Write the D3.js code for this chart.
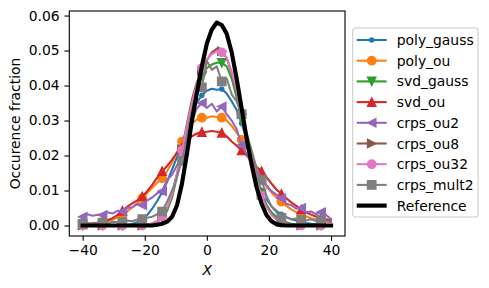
<html>
  <head>
    <meta charset="utf-8">
    <title>Occurence fraction</title>
    <script src="https://cdnjs.cloudflare.com/ajax/libs/d3/7.8.5/d3.min.js"></script>
    <style>
      body { margin: 0; background: #fff; }
      text { font-family: "DejaVu Sans", sans-serif; }
    </style>
  </head>
  <body>
    <div id="chart"></div>
<script>
  // x grid
  const xs = [-40, -38.4, -36.8, -35.2, -33.6, -32, -30.4, -28.8, -27.2, -25.6, -24, -22.4, -20.8, -19.2, -17.6, -16,
    -14.4, -12.8, -11.2, -9.6, -8, -6.4, -4.8, -3.2, -1.6, 0, 1.6, 3.2, 4.8, 6.4, 8, 9.6, 11.2, 12.8, 14.4, 16, 17.6,
    19.2, 20.8, 22.4, 24, 25.6, 27.2, 28.8, 30.4, 32, 33.6, 35.2, 36.8, 38.4, 40];

  const polyGauss = [0, 0, 0, 0, 0, 0, 0, 0, 0, 0.0002, 0.0004, 0.0009, 0.0016, 0.003, 0.0048, 0.007, 0.0095, 0.0125,
    0.016, 0.0196, 0.0232, 0.0275, 0.0325, 0.0352, 0.0372, 0.0385, 0.0391, 0.0388, 0.039, 0.0377, 0.0355, 0.033, 0.0292,
    0.0247, 0.0195, 0.0135, 0.01, 0.0075, 0.0055, 0.0042, 0.0032, 0.0024, 0.0018, 0.0014, 0.001, 0.0007, 0.0005, 0.0004,
    0.0003, 0.0002, 0.0001];
  const polyOu = [0.0003, 0.0004, 0.0005, 0.0007, 0.0009, 0.0012, 0.0017, 0.0023, 0.0031, 0.004, 0.0052, 0.0064, 0.0078,
    0.0093, 0.0108, 0.0122, 0.0135, 0.0155, 0.018, 0.021, 0.024, 0.0272, 0.0292, 0.0303, 0.0308, 0.0308, 0.0312, 0.031,
    0.0308, 0.03, 0.0285, 0.0265, 0.0245, 0.0222, 0.0195, 0.016, 0.0132, 0.0112, 0.0095, 0.008, 0.0068, 0.0056, 0.0046,
    0.0038, 0.0031, 0.0026, 0.0021, 0.0017, 0.0014, 0.0012, 0.001];
  const svdGauss = [0, 0, 0, 0, 0, 0, 0, 0, 0, 0, 0, 0, 0.0001, 0.0003, 0.0006, 0.0012, 0.0022, 0.0042, 0.008, 0.014,
    0.0205, 0.027, 0.0335, 0.039, 0.0425, 0.045, 0.046, 0.0465, 0.0465, 0.0455, 0.042, 0.0365, 0.0305, 0.0245, 0.0185,
    0.0135, 0.0092, 0.006, 0.0038, 0.0024, 0.0015, 0.0009, 0.0005, 0.0003, 0.0002, 0.0001, 0, 0, 0, 0, 0];
  const svdOu = [0.0003, 0.0004, 0.0006, 0.0008, 0.0011, 0.0015, 0.0021, 0.003, 0.0042, 0.0054, 0.0063, 0.0072, 0.0083,
    0.0098, 0.0116, 0.0137, 0.0155, 0.017, 0.0188, 0.0208, 0.0222, 0.024, 0.0255, 0.0263, 0.0267, 0.0268, 0.027, 0.0268,
    0.0265, 0.0255, 0.024, 0.0228, 0.0215, 0.02, 0.0185, 0.0168, 0.0155, 0.0138, 0.012, 0.0103, 0.009, 0.0078, 0.0066,
    0.0056, 0.0046, 0.0038, 0.0031, 0.0025, 0.0021, 0.0018, 0.0015];
  const crpsOu2 = [0.0025, 0.0032, 0.0028, 0.0031, 0.003, 0.0038, 0.0034, 0.0042, 0.004, 0.005, 0.0052, 0.0062, 0.0058,
    0.0072, 0.008, 0.0092, 0.0098, 0.013, 0.0145, 0.0172, 0.0205, 0.0255, 0.03, 0.0335, 0.035, 0.0336, 0.0348, 0.0326,
    0.034, 0.0318, 0.03, 0.0275, 0.023, 0.0205, 0.0178, 0.015, 0.0132, 0.0115, 0.0098, 0.0088, 0.0078, 0.0062, 0.0058,
    0.0048, 0.005, 0.0038, 0.004, 0.0032, 0.0038, 0.003, 0.0018];
  const crpsOu8 = [0, 0, 0, 0, 0, 0, 0, 0, 0, 0, 0, 0, 0, 0.0002, 0.0005, 0.0011, 0.0024, 0.0048, 0.0088, 0.0148, 0.0218,
    0.0292, 0.036, 0.041, 0.044, 0.0472, 0.0495, 0.0505, 0.0498, 0.0478, 0.0435, 0.038, 0.0318, 0.0252, 0.019, 0.0135,
    0.0088, 0.0055, 0.0032, 0.0018, 0.001, 0.0005, 0.0002, 0.0001, 0, 0, 0, 0, 0, 0, 0];
  const crpsOu32 = [0, 0, 0, 0, 0, 0, 0, 0, 0, 0, 0, 0, 0, 0.0003, 0.0006, 0.0012, 0.0025, 0.005, 0.009, 0.015, 0.0215,
    0.0285, 0.035, 0.0405, 0.045, 0.0475, 0.049, 0.0497, 0.0495, 0.048, 0.044, 0.0385, 0.032, 0.0255, 0.019, 0.0132,
    0.0085, 0.0052, 0.003, 0.0017, 0.0009, 0.0005, 0.0002, 0.0001, 0, 0, 0, 0, 0, 0, 0];
  const crpsMult2 = [0.0005, 0.0007, 0.0004, 0.0008, 0.0008, 0.0006, 0.0011, 0.0009, 0.001, 0.0014, 0.0012, 0.0017,
    0.0018, 0.0022, 0.0025, 0.0032, 0.004, 0.0068, 0.01, 0.014, 0.0185, 0.0255, 0.033, 0.0385, 0.0395, 0.047, 0.0445,
    0.0455, 0.0412, 0.042, 0.0375, 0.0355, 0.0318, 0.0265, 0.0215, 0.0165, 0.013, 0.0085, 0.0055, 0.0038, 0.0022, 0.0024,
    0.0018, 0.002, 0.0016, 0.0014, 0.0018, 0.0013, 0.0016, 0.0012, 0.001];
  const reference = [0, 0, 0, 0, 0, 0, 0, 0, 0, 0, 0, 0, 0, 0, 0, 0.0002, 0.0005, 0.0011, 0.0025, 0.0058, 0.012, 0.0205,
    0.03, 0.038, 0.0455, 0.052, 0.056, 0.058, 0.0573, 0.0548, 0.0495, 0.042, 0.0335, 0.025, 0.0175, 0.011, 0.0063, 0.003,
    0.0012, 0.0004, 0.0001, 0, 0, 0, 0, 0, 0, 0, 0, 0, 0];

  const seriesNames = ['poly_gauss', 'poly_ou', 'svd_gauss', 'svd_ou', 'crps_ou2', 'crps_ou8', 'crps_ou32', 'crps_mult2'];
  const seriesValues = [polyGauss, polyOu, svdGauss, svdOu, crpsOu2, crpsOu8, crpsOu32, crpsMult2];
  const seriesMarkers = ['.', 'o', 'v', '^', '<', '>', 'o', 's'];
  const seriesColors = ['#1f77b4', '#ff7f0e', '#2ca02c', '#d62728', '#9467bd', '#8c564b', '#e377c2', '#7f7f7f'];
  const xTicks = [-40, -20, 0, 20, 40];
  const yTicks = [0, 0.01, 0.02, 0.03, 0.04, 0.05, 0.06];

  const W = 489, H = 288;
  const L = 69.3, R = 345, T = 11, B = 236;
  const fs = 13.9, lw = 2.08, ms = 8.33;

  const x = d3.scaleLinear().domain([-44.3, 44.5]).range([L, R]);
  const y = d3.scaleLinear().domain([-0.003, 0.0613]).range([B, T]);

  const svg = d3.select('#chart').append('svg').attr('width', W).attr('height', H);

  svg.append('clipPath').attr('id', 'clip')
    .append('rect').attr('x', L).attr('y', T).attr('width', R - L).attr('height', B - T);

  function markerPath(m) {
    const h = ms / 2;
    if (m === 'o') return d3.symbol(d3.symbolCircle, Math.PI * h * h)();
    if (m === '.') return d3.symbol(d3.symbolCircle, Math.PI * h * h / 4)();
    if (m === 's') return `M${-h},${-h}H${h}V${h}H${-h}Z`;
    if (m === '^') return `M0,${-h}L${h},${h}L${-h},${h}Z`;
    if (m === 'v') return `M0,${h}L${h},${-h}L${-h},${-h}Z`;
    if (m === '<') return `M${-h},0L${h},${-h}L${h},${h}Z`;
    if (m === '>') return `M${h},0L${-h},${-h}L${-h},${h}Z`;
  }

  const line = d3.line().x(d => x(d[0])).y(d => y(d[1]));
  const plot = svg.append('g').attr('clip-path', 'url(#clip)');

  seriesValues.forEach((vals, k) => {
    const pts = xs.map((xv, i) => [xv, vals[i]]);
    plot.append('path')
      .datum(pts)
      .attr('d', line)
      .attr('fill', 'none')
      .attr('stroke', seriesColors[k])
      .attr('stroke-width', lw)
      .attr('stroke-linejoin', 'round')
      .attr('stroke-linecap', 'square');

    // markevery 4
    plot.selectAll(null)
      .data(pts.filter((d, i) => i % 4 === 0))
      .join('path')
      .attr('d', markerPath(seriesMarkers[k]))
      .attr('transform', d => `translate(${x(d[0])},${y(d[1])})`)
      .attr('fill', seriesColors[k])
      .attr('stroke', seriesColors[k])
      .attr('stroke-width', 1.39);
  });

  plot.append('path')
    .datum(xs.map((xv, i) => [xv, reference[i]]))
    .attr('d', line)
    .attr('fill', 'none')
    .attr('stroke', '#000')
    .attr('stroke-width', 4.17)
    .attr('stroke-linejoin', 'round')
    .attr('stroke-linecap', 'square');

  // axes
  const xAxis = svg.append('g')
    .attr('transform', `translate(0,${B})`)
    .call(d3.axisBottom(x).tickValues(xTicks).tickSize(4.86).tickPadding(4.4).tickFormat(d3.format('d')));
  const yAxis = svg.append('g')
    .attr('transform', `translate(${L},0)`)
    .call(d3.axisLeft(y).tickValues(yTicks).tickSize(4.86).tickPadding(4.86).tickFormat(d3.format('.2f')));

  [xAxis, yAxis].forEach(a => {
    a.select('.domain').remove();
    a.selectAll('line').attr('stroke', '#000').attr('stroke-width', 1.11);
    a.selectAll('text').attr('font-size', fs).attr('fill', '#000').style('font-family', '"DejaVu Sans", sans-serif');
  });

  svg.append('rect')
    .attr('x', L).attr('y', T).attr('width', R - L).attr('height', B - T)
    .attr('fill', 'none').attr('stroke', '#000').attr('stroke-width', 1.11);

  svg.append('text')
    .attr('x', (L + R) / 2).attr('y', 275)
    .attr('text-anchor', 'middle')
    .attr('font-size', fs)
    .attr('font-style', 'italic')
    .text('X');

  svg.append('text')
    .attr('transform', `translate(20,${(T + B) / 2}) rotate(-90)`)
    .attr('text-anchor', 'middle')
    .attr('font-size', fs)
    .text('Occurence fraction');

  // legend
  const legend = svg.append('g').attr('transform', 'translate(352.7,28)');
  legend.append('rect')
    .attr('width', 125.3).attr('height', 189)
    .attr('rx', 2.8)
    .attr('fill', '#fff').attr('fill-opacity', 0.8)
    .attr('stroke', '#cccccc').attr('stroke-width', 1.1);

  const legendNames = seriesNames.concat(['Reference']);
  legendNames.forEach((name, i) => {
    const gy = 12 + i * 20.7;
    const g = legend.append('g').attr('transform', `translate(0,${gy})`);
    const isRef = i === seriesNames.length;
    g.append('line')
      .attr('x1', 4).attr('x2', 34)
      .attr('stroke', isRef ? '#000' : seriesColors[i])
      .attr('stroke-width', isRef ? 4.17 : lw);
    if (!isRef) {
      g.append('path')
        .attr('d', markerPath(seriesMarkers[i]))
        .attr('transform', 'translate(19,0)')
        .attr('fill', seriesColors[i])
        .attr('stroke', seriesColors[i])
        .attr('stroke-width', 1.39);
    }
    g.append('text')
      .attr('x', 44).attr('y', 0)
      .attr('dy', '0.36em')
      .attr('font-size', fs)
      .attr('fill', '#000')
      .text(name);
  });
</script>
  </body>
</html>
